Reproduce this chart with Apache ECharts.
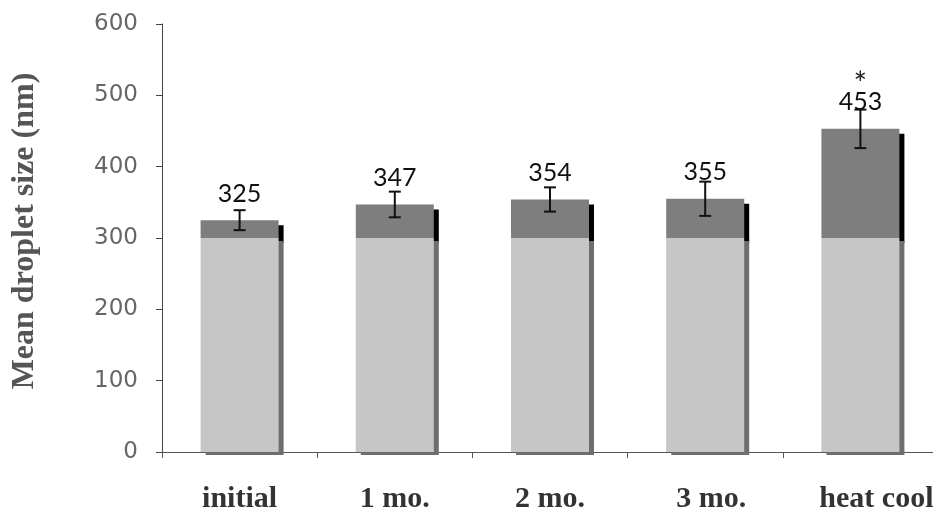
<!DOCTYPE html>
<html>
<head>
<meta charset="utf-8">
<script src="https://cdn.jsdelivr.net/npm/echarts@6/dist/echarts.min.js"></script>
<style>
  html, body { margin: 0; padding: 0; background: #fff; }
  #chart { width: 933px; height: 514px; }
</style>
</head>
<body>
<div id="chart"></div>
<script>
// Storage time points
const categories = ['initial', '1 mo.', '2 mo.', '3 mo.', 'heat cool'];
// Mean droplet size (nm)
const meanSize = [325, 347, 354, 355, 453];
// Standard deviation (nm)
const sdSize = [14, 18, 17, 24, 27];
// Significance markers
const significance = ['', '', '', '', '*'];
// Y-axis ticks
const yTicks = [0, 100, 200, 300, 400, 500, 600];

// Each bar is split into a light lower block and a darker upper block
const splitLevel = 300;
const lowerPart = meanSize.map(v => Math.min(v, splitLevel));
const upperPart = meanSize.map(v => Math.max(v - splitLevel, 0));

const chart = echarts.init(document.getElementById('chart'));

const catData = categories.map(c => {
  if (c === 'heat cool') return { value: c, textStyle: { padding: [0, 0, 0, 32] } };
  if (c === '3 mo.') return { value: c, textStyle: { padding: [0, 0, 0, 12] } };
  return c;
});

chart.setOption({
  animation: false,
  backgroundColor: '#ffffff',
  grid: {
    left: 162, top: 24, width: 776, height: 428,
    containLabel: false,
    outerBoundsMode: 'none'
  },
  xAxis: {
    type: 'category',
    data: catData,
    axisLine: { lineStyle: { color: '#555', width: 1 } },
    axisTick: { show: true, length: 6, lineStyle: { color: '#555' } },
    axisLabel: {
      margin: 32,
      color: '#333',
      fontFamily: 'Liberation Serif',
      fontWeight: 'bold',
      fontSize: 30
    }
  },
  yAxis: {
    type: 'value',
    min: yTicks[0],
    max: yTicks[yTicks.length - 1],
    interval: 100,
    name: 'Mean droplet size (nm)',
    nameLocation: 'middle',
    nameGap: 121,
    nameTextStyle: {
      color: '#555',
      fontFamily: 'Liberation Serif',
      fontWeight: 'bold',
      fontSize: 32,
      padding: [0, 0, 0, 14]
    },
    axisLine: { show: true, lineStyle: { color: '#444', width: 1 } },
    axisTick: { show: true, length: 6, lineStyle: { color: '#444' } },
    splitLine: { show: false },
    axisLabel: {
      margin: 24,
      color: '#666',
      fontFamily: 'DejaVu Sans',
      fontSize: 23
    }
  },
  series: [
    {
      name: 'lower',
      type: 'bar',
      stack: 'size',
      z: 3,
      barWidth: 78,
      data: lowerPart,
      itemStyle: {
        color: '#c6c6c6',
        shadowColor: '#6e6e6e',
        shadowBlur: 0,
        shadowOffsetX: 5,
        shadowOffsetY: 3
      }
    },
    {
      name: 'upper',
      type: 'bar',
      stack: 'size',
      z: 2,
      barWidth: 78,
      data: upperPart,
      itemStyle: {
        color: '#7e7e7e',
        shadowColor: '#000',
        shadowBlur: 0,
        shadowOffsetX: 5,
        shadowOffsetY: 5
      },
      label: {
        show: true,
        position: 'top',
        distance: 14,
        color: '#111',
        fontFamily: 'Lato',
        fontSize: 25,
        formatter: p => String(meanSize[p.dataIndex])
      }
    },
    {
      name: 'error',
      type: 'custom',
      z: 6,
      data: meanSize.map((v, i) => [i, v, sdSize[i]]),
      renderItem: (params, api) => {
        const x = api.value(0);
        const v = api.value(1);
        const e = api.value(2);
        const mark = significance[params.dataIndex];
        const top = api.coord([x, v + e]);
        const bot = api.coord([x, v - e]);
        const barTop = api.coord([x, v]);
        const cap = 6;
        const style = { stroke: '#111', lineWidth: 2 };
        const children = [
          { type: 'line', shape: { x1: top[0], y1: top[1], x2: bot[0], y2: bot[1] }, style },
          { type: 'line', shape: { x1: top[0] - cap, y1: top[1], x2: top[0] + cap, y2: top[1] }, style },
          { type: 'line', shape: { x1: bot[0] - cap, y1: bot[1], x2: bot[0] + cap, y2: bot[1] }, style }
        ];
        if (mark) {
          children.push({
            type: 'text',
            style: {
              text: mark,
              x: barTop[0],
              y: barTop[1] - 44,
              align: 'center',
              verticalAlign: 'middle',
              fill: '#222',
              font: '32px Lato'
            }
          });
        }
        return { type: 'group', children };
      }
    }
  ]
});
</script>
</body>
</html>
